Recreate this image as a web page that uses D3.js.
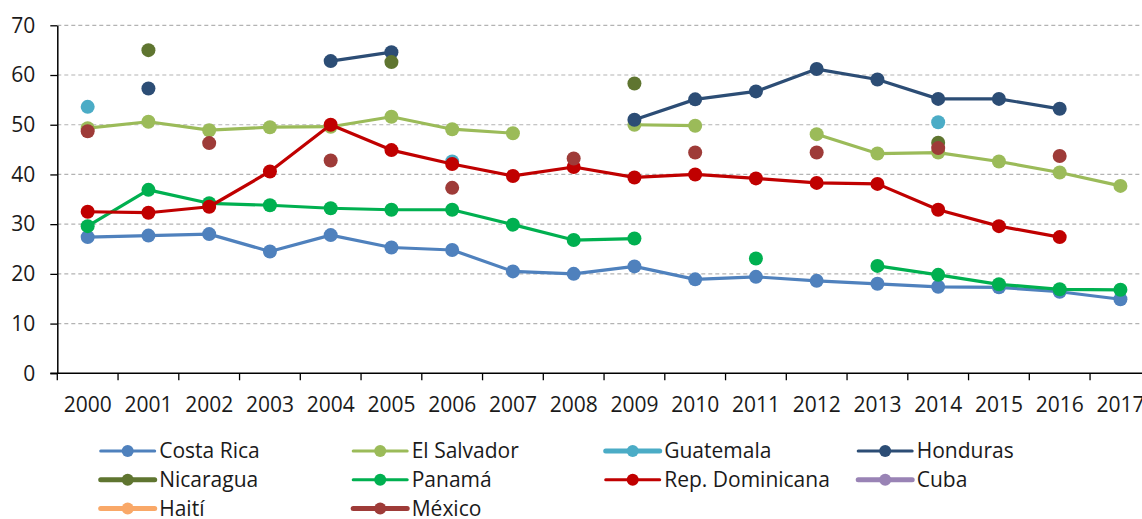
<!DOCTYPE html>
<html>
<head>
<meta charset="utf-8">
<script src="https://cdn.jsdelivr.net/npm/d3@7"></script>
<style>
  body { margin: 0; background: #fff; }
  text { font-family: "Open Sans", "Noto Sans", sans-serif; fill: #1a1a1a; }
</style>
</head>
<body>
<svg id="chart" width="1142" height="519"></svg>
<script>
// Years on the x axis
const years = ['2000','2001','2002','2003','2004','2005','2006','2007','2008',
               '2009','2010','2011','2012','2013','2014','2015','2016','2017'];
const yTicks = [0, 10, 20, 30, 40, 50, 60, 70];

// Series values (null = no data)
const costaRica   = [27.4, 27.7, 28.0, 24.5, 27.8, 25.3, 24.8, 20.5, 20.0, 21.5, 18.9, 19.4, 18.6, 18.0, 17.4, 17.3, 16.4, 14.9];
const elSalvador  = [49.3, 50.6, 48.9, 49.5, 49.6, 51.6, 49.1, 48.3, null, 50.0, 49.8, null, 48.1, 44.2, 44.4, 42.6, 40.4, 37.7];
const guatemala   = [53.6, null, null, null, null, null, 42.6, null, null, null, null, null, null, null, 50.5, null, null, null];
const honduras    = [null, 57.3, null, null, 62.8, 64.6, null, null, null, 51.0, 55.1, 56.7, 61.2, 59.1, 55.2, 55.2, 53.2, null];
const nicaragua   = [null, 65.0, null, null, null, 62.6, null, null, null, 58.3, null, null, null, null, 46.4, null, null, null];
const panama      = [29.6, 36.9, 34.2, 33.8, 33.2, 32.9, 32.9, 29.9, 26.8, 27.1, null, 23.1, null, 21.6, 19.8, 17.9, 16.9, 16.8];
const repDom      = [32.5, 32.3, 33.5, 40.6, 50.0, 44.9, 42.1, 39.7, 41.5, 39.4, 40.0, 39.2, 38.3, 38.1, 32.9, 29.6, 27.4, null];
const cuba        = years.map(() => null);
const haiti       = years.map(() => null);
const mexico      = [48.7, null, 46.3, null, 42.8, null, 37.3, null, 43.2, null, 44.4, null, 44.4, null, 45.3, null, 43.7, null];

const series = [
    {name: 'Costa Rica', values: costaRica, color: '#4f81bd', legendWidth: 3},
    {name: 'El Salvador', values: elSalvador, color: '#9bbb59', legendWidth: 3},
    {name: 'Guatemala', values: guatemala, color: '#4bacc6', legendWidth: 5},
    {name: 'Honduras', values: honduras, color: '#2c4d75', legendWidth: 3},
    {name: 'Nicaragua', values: nicaragua, color: '#5f7530', legendWidth: 5},
    {name: 'Panamá', values: panama, color: '#00b050', legendWidth: 3},
    {name: 'Rep. Dominicana', values: repDom, color: '#c00000', legendWidth: 3},
    {name: 'Cuba', values: cuba, color: '#9983b5', legendWidth: 5},
    {name: 'Haití', values: haiti, color: '#f9a868', legendWidth: 5},
    {name: 'México', values: mexico, color: '#9e3b38', legendWidth: 5}
];

const svg = d3.select('#chart');
const width = 1142;

// Plot area (runs slightly past the right edge, as in the original)
const x = d3.scaleBand()
    .domain(years)
    .range([57.3, 57.3 + 18 * 60.75])
    .padding(0);
const y = d3.scaleLinear()
    .domain([0, 70])
    .range([373.3, 25.3]);

// Dashed gridlines
svg.append('g')
    .selectAll('line')
    .data(yTicks.filter(d => d > 0))
    .join('line')
    .attr('x1', x.range()[0])
    .attr('x2', width)
    .attr('y1', d => y(d))
    .attr('y2', d => y(d))
    .attr('stroke', '#b3b3b3')
    .attr('stroke-width', 1.2)
    .attr('stroke-dasharray', '4,3');

// Y axis
const yAxis = svg.append('g')
    .attr('transform', `translate(${x.range()[0]},0)`)
    .call(d3.axisLeft(y).tickValues(yTicks).tickSize(7).tickSizeOuter(0).tickPadding(15));
yAxis.selectAll('line').attr('stroke', '#000').attr('stroke-width', 1.3);
yAxis.select('.domain').attr('stroke', '#000').attr('stroke-width', 1.5);
yAxis.selectAll('text').style('font-size', '21px').attr('fill', '#1a1a1a');

// X axis: labels at band centers, ticks at band edges
const xAxis = svg.append('g')
    .attr('transform', `translate(0,${y(0)})`)
    .call(d3.axisBottom(x).tickSize(0).tickPadding(24));
xAxis.select('.domain').remove();
xAxis.selectAll('text').style('font-size', '21px').attr('fill', '#1a1a1a');

svg.append('line')
    .attr('x1', x.range()[0] - 7)
    .attr('x2', width)
    .attr('y1', y(0))
    .attr('y2', y(0))
    .attr('stroke', '#000')
    .attr('stroke-width', 1.5);

svg.append('g')
    .selectAll('line')
    .data(years)
    .join('line')
    .attr('x1', d => x(d))
    .attr('x2', d => x(d))
    .attr('y1', y(0))
    .attr('y2', y(0) + 7)
    .attr('stroke', '#000')
    .attr('stroke-width', 1.3);

// Lines and markers
const line = d3.line()
    .defined(d => d.v !== null)
    .x(d => x(d.year) + x.bandwidth() / 2)
    .y(d => y(d.v));

series.forEach(s => {
    const pts = years.map((yr, i) => ({year: yr, v: s.values[i]}));
    const g = svg.append('g');
    g.append('path')
        .datum(pts)
        .attr('fill', 'none')
        .attr('stroke', s.color)
        .attr('stroke-width', 3.2)
        .attr('stroke-linejoin', 'round')
        .attr('d', line);
    g.selectAll('circle')
        .data(pts.filter(d => d.v !== null))
        .join('circle')
        .attr('cx', d => x(d.year) + x.bandwidth() / 2)
        .attr('cy', d => y(d.v))
        .attr('r', 7)
        .attr('fill', s.color);
});

// Legend (4 columns)
const legend = svg.append('g');
series.forEach((s, i) => {
    const lx = 100.7 + (i % 4) * 252.5;
    const ly = 451 + Math.floor(i / 4) * 28.7;
    const item = legend.append('g').attr('transform', `translate(${lx},${ly})`);
    item.append('line')
        .attr('x1', 0).attr('x2', 54)
        .attr('stroke', s.color)
        .attr('stroke-width', s.legendWidth)
        .attr('stroke-linecap', 'round');
    item.append('circle')
        .attr('cx', 27).attr('r', 6)
        .attr('fill', s.color);
    item.append('text')
        .attr('x', 58.5)
        .attr('dy', '0.35em')
        .style('font-size', '21px')
        .text(s.name);
});
</script>
</body>
</html>
